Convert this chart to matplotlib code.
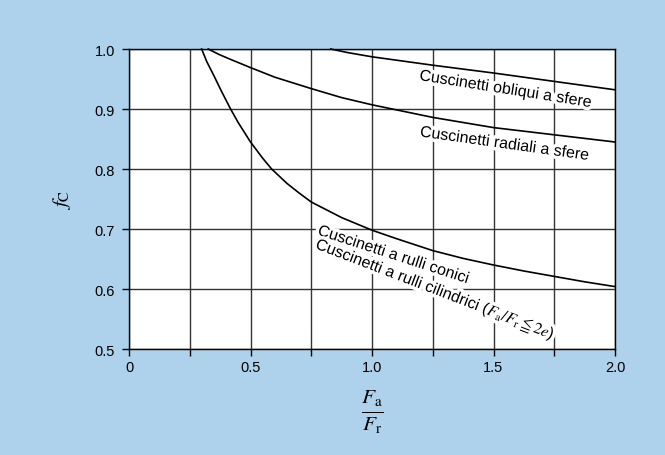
import matplotlib
matplotlib.use("Agg")
import matplotlib.pyplot as plt
import matplotlib.patheffects as pe
from matplotlib.ticker import MultipleLocator

plt.rcParams['font.family'] = ['Liberation Sans', 'DejaVu Sans']
plt.rcParams['mathtext.fontset'] = 'stix'

# Data
obliqui_x = [0.83, 0.9, 1.0, 1.25, 1.5, 1.75, 2.0]
obliqui_y = [1.0, 0.994, 0.987, 0.973, 0.960, 0.946, 0.932]

radiali_x = [0.326, 0.37, 0.416, 0.5, 0.6, 0.75, 0.875, 1.0, 1.25, 1.5, 1.75, 2.0]
radiali_y = [1.0, 0.991, 0.983, 0.969, 0.953, 0.934, 0.919, 0.907, 0.886, 0.869, 0.857, 0.845]

conici_x = [0.299, 0.32, 0.35, 0.38, 0.418, 0.45, 0.5, 0.55, 0.587, 0.65, 0.7, 0.75,
            0.875, 1.0, 1.1, 1.25, 1.375, 1.5, 1.625, 1.75, 1.875, 2.0]
conici_y = [1.0, 0.979, 0.955, 0.930, 0.9, 0.877, 0.845, 0.818, 0.8, 0.776, 0.760, 0.745,
            0.719, 0.698, 0.684, 0.664, 0.651, 0.640, 0.630, 0.621, 0.612, 0.604]

x_ticks = [0, 0.5, 1.0, 1.5, 2.0]
x_tick_labels = ['0', '0.5', '1.0', '1.5', '2.0']
y_ticks = [0.5, 0.6, 0.7, 0.8, 0.9, 1.0]
y_tick_labels = ['0.5', '0.6', '0.7', '0.8', '0.9', '1.0']

label_obliqui = 'Cuscinetti obliqui a sfere'
label_radiali = 'Cuscinetti radiali a sfere'
label_conici = 'Cuscinetti a rulli conici'
label_cilindrici = r'Cuscinetti a rulli cilindrici ($F_{\mathrm{a}}/F_{\mathrm{r}}\leqq 2e$)'

bg = '#aed1ec'
fig = plt.figure(figsize=(6.65, 4.56), dpi=100, facecolor=bg)
ax = fig.add_axes([129/665, 1 - 350/456, (615-129)/665, 300/456])
ax.set_facecolor('white')

ax.set_xlim(0, 2.0)
ax.set_ylim(0.5, 1.0)
ax.set_xticks(x_ticks)
ax.set_xticklabels(x_tick_labels)
ax.set_yticks(y_ticks)
ax.set_yticklabels(y_tick_labels)
ax.xaxis.set_minor_locator(MultipleLocator(0.25))
ax.tick_params(axis='both', which='both', direction='out', length=5, width=1,
               colors='black', labelsize=10.5, pad=3)
ax.tick_params(axis='y', pad=5)

ax.set_axisbelow(True)
ax.grid(True, which='both', axis='x', color='#333333', linewidth=1)
ax.grid(True, which='major', axis='y', color='#333333', linewidth=1)
for s in ax.spines.values():
    s.set_color('black')
    s.set_linewidth(1)

lw = 1.2
ax.plot(obliqui_x, obliqui_y, color='black', lw=lw, zorder=5, clip_on=False)
ax.plot(radiali_x, radiali_y, color='black', lw=lw, zorder=5, clip_on=False)
ax.plot(conici_x, conici_y, color='black', lw=lw, zorder=5, clip_on=False)

halo = [pe.withStroke(linewidth=5, foreground='white')]
kw = dict(fontsize=11.5, ha='center', va='center', zorder=4, path_effects=halo,
          rotation_mode='anchor')
ax.text(1.551, 0.933, label_obliqui, rotation=-9, **kw)
ax.text(1.547, 0.842, label_radiali, rotation=-8, **kw)
ax.text(1.09, 0.657, label_conici, rotation=-18, **kw)
ax.text(1.26, 0.598, label_cilindrici, rotation=-21, **kw)

fig.text(372/665, 1 - 412/456, r'$\frac{F_{\mathrm{a}}}{F_{\mathrm{r}}}$',
         ha='center', va='center', fontsize=22)
fig.text(62/665, 1 - 200/456, r'$f_{\mathrm{C}}$', ha='center', va='center',
         rotation=90, fontsize=15)

fig.savefig('out.png', dpi=100, facecolor=bg)
